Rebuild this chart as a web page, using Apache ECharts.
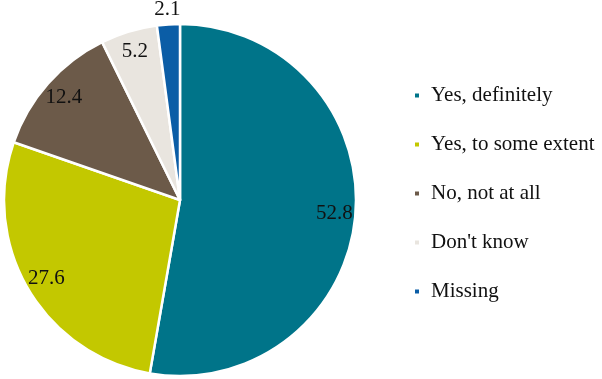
<!DOCTYPE html>
<html><head><meta charset="utf-8">
<script src="https://cdn.jsdelivr.net/npm/echarts@6/dist/echarts.min.js"></script>
<style>html,body{margin:0;padding:0;background:#fff}#c{width:602px;height:379px}</style>
</head><body><div id="c"></div>
<script>
const categories = ["Yes, definitely", "Yes, to some extent", "No, not at all", "Don't know", "Missing"];
const values = [52.8, 27.6, 12.4, 5.2, 2.1];
const colors = ["#007489", "#c3c800", "#6c5a49", "#e9e5df", "#0b5da6"];
const font = "'Liberation Serif', 'DejaVu Serif', serif";

const chart = echarts.init(document.getElementById('c'), null, {renderer: 'canvas'});
const mainData = categories.map((n, i) => ({name: n, value: values[i], itemStyle: {color: colors[i]}}));
const labelData = categories.map((n, i) => {
  const d = {name: 'lbl' + i, value: values[i], itemStyle: {color: 'rgba(0,0,0,0)'}};
  if (i === 4) {
    d.label = {position: 'outside'};
    d.labelLine = {show: false, length: 15, length2: 0};
  }
  return d;
});
chart.setOption({
  animation: false,
  legend: {
    orient: 'vertical', left: 413, top: 85, padding: 0,
    data: categories, selectedMode: false,
    icon: 'rect', itemWidth: 6, itemHeight: 6, itemGap: 28,
    textStyle: {fontFamily: font, fontSize: 21, lineHeight: 21, color: '#111', padding: [0,0,0,6]}
  },
  series: [{
    type: 'pie', center: [180, 200], radius: 176, startAngle: 90,
    silent: true, legendHoverLink: false, emphasis: {disabled: true},
    label: {show: false}, labelLine: {show: false},
    itemStyle: {borderColor: '#fff', borderWidth: 2.5},
    data: mainData
  }, {
    type: 'pie', center: [180, 200], radius: [128, 176], startAngle: 90,
    silent: true, legendHoverLink: false, emphasis: {disabled: true},
    label: {show: true, position: 'inside', formatter: p => p.value.toFixed(1),
      fontFamily: font, fontSize: 21, color: '#111', distanceToLabelLine: 0},
    labelLayout: p => p.dataIndex === 4 ? {align: 'center'} : {},
    labelLine: {show: false},
    data: labelData
  }]
});
</script></body></html>
